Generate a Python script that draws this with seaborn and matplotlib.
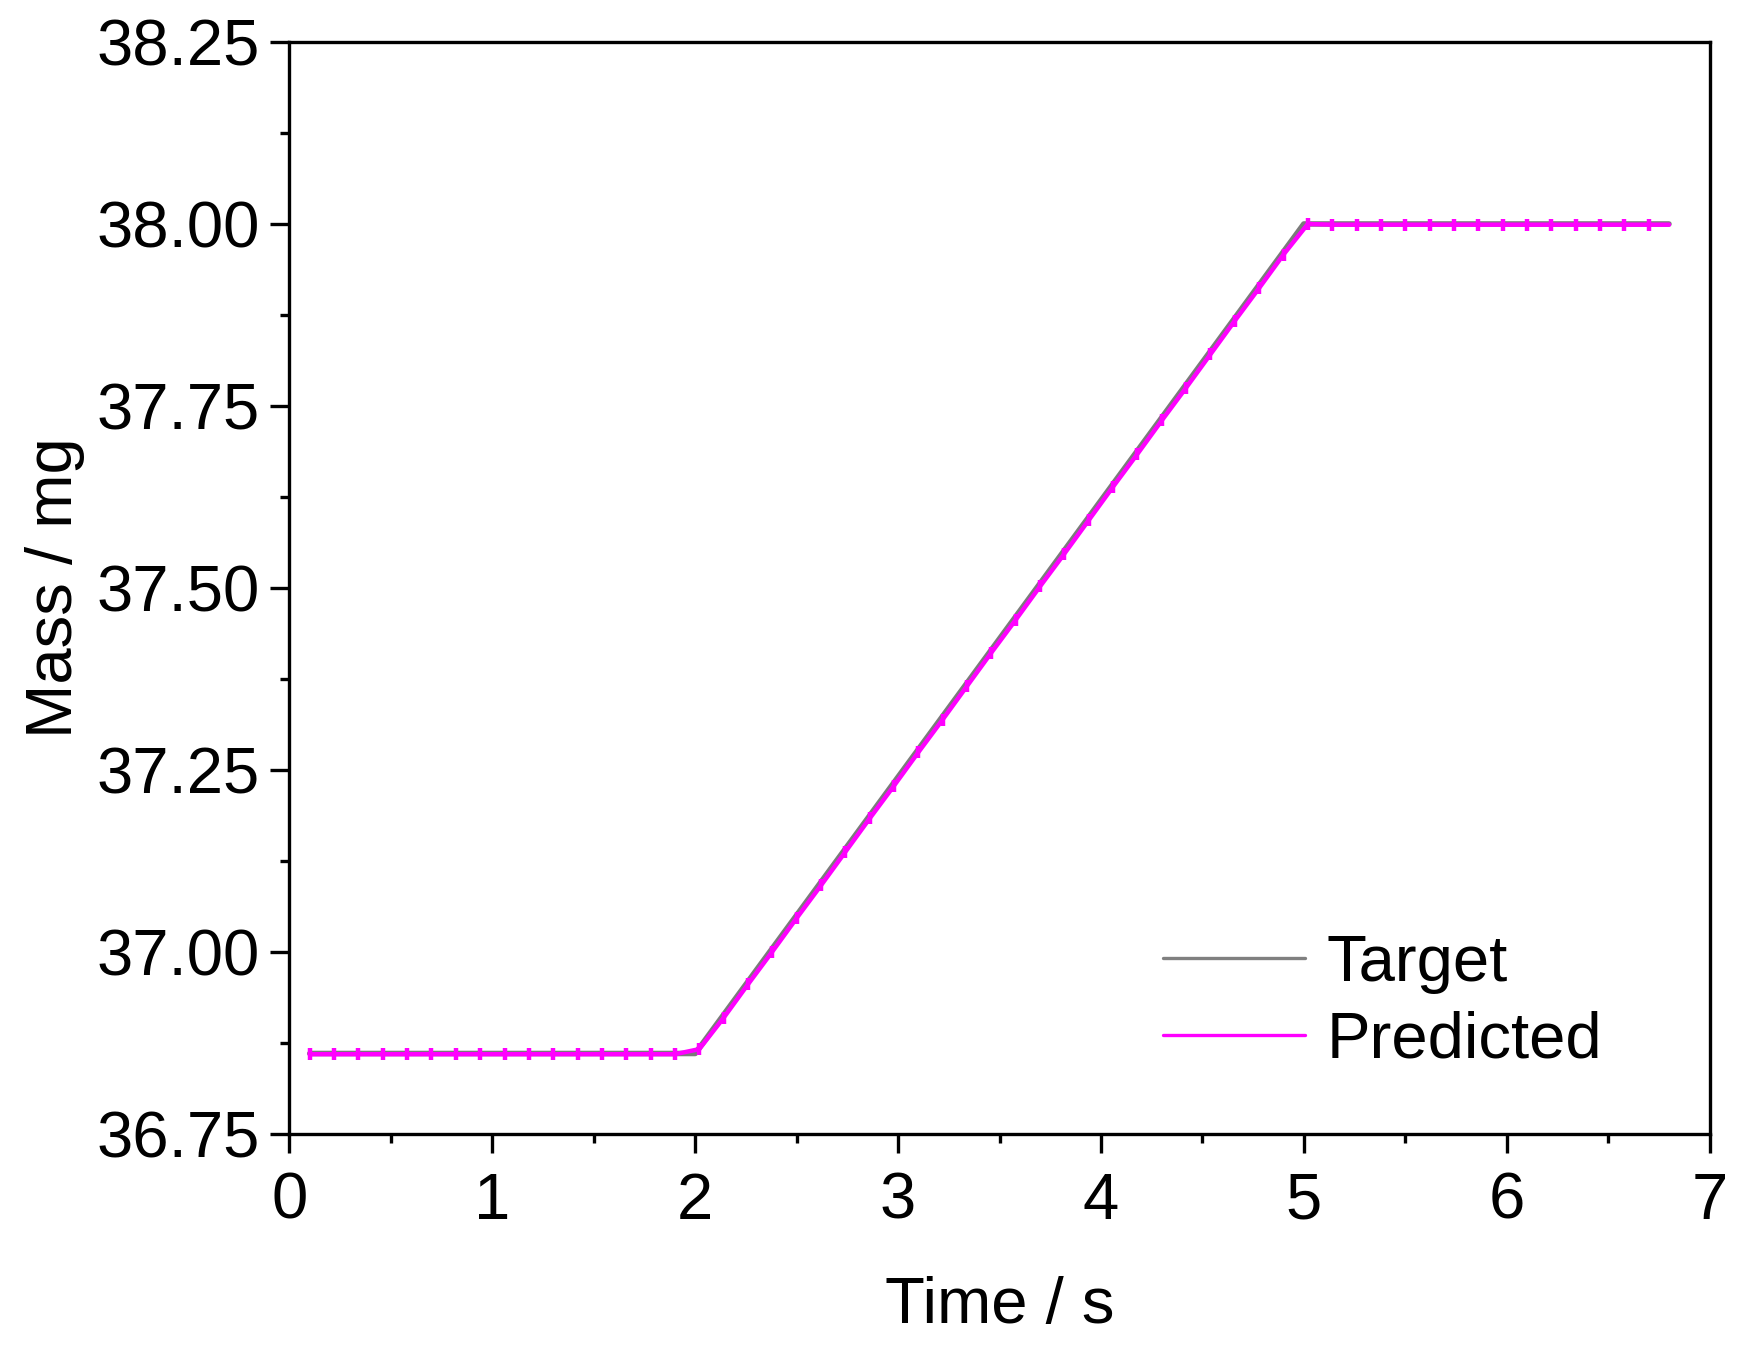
import numpy as np
import pandas as pd
import seaborn as sns
import matplotlib.pyplot as plt
from matplotlib.lines import Line2D
from matplotlib.ticker import MultipleLocator, FormatStrFormatter

# target mass profile (corner points)
target_time = [0.1, 2.0, 5.0, 6.8]
target_mass = [36.86, 36.86, 38.00, 38.00]

# predicted mass, sampled every 0.12 s
pred_time = [0.10, 0.22, 0.34, 0.46, 0.58, 0.70, 0.82, 0.94, 1.06, 1.18,
             1.30, 1.42, 1.54, 1.66, 1.78, 1.90, 2.02, 2.14, 2.26, 2.38,
             2.50, 2.62, 2.74, 2.86, 2.98, 3.10, 3.22, 3.34, 3.46, 3.58,
             3.70, 3.82, 3.94, 4.06, 4.18, 4.30, 4.42, 4.54, 4.66, 4.78,
             4.90, 5.02, 5.14, 5.26, 5.38, 5.50, 5.62, 5.74, 5.86, 5.98,
             6.10, 6.22, 6.34, 6.46, 6.58, 6.70, 6.80]
pred_mass = [36.859, 36.859, 36.859, 36.859, 36.859, 36.859, 36.859, 36.859,
             36.859, 36.859, 36.859, 36.859, 36.859, 36.859, 36.859, 36.859,
             36.866, 36.909, 36.955, 37.000, 37.046, 37.091, 37.137, 37.183,
             37.228, 37.274, 37.319, 37.365, 37.411, 37.456, 37.502, 37.547,
             37.593, 37.639, 37.684, 37.730, 37.775, 37.821, 37.867, 37.912,
             37.958, 38.000, 37.999, 37.999, 37.999, 37.999, 37.999, 37.999,
             37.999, 37.999, 37.999, 37.999, 37.999, 37.999, 37.999, 37.999,
             37.999]

df_target = pd.DataFrame({'Time': target_time, 'Mass': target_mass})
df_pred = pd.DataFrame({'Time': pred_time, 'Mass': pred_mass})

sns.set_theme(style="ticks", rc={'text.color': 'black', 'axes.labelcolor': 'black',
                                 'xtick.color': 'black', 'ytick.color': 'black',
                                 'axes.edgecolor': 'black'})
plt.rcParams['font.family'] = ['Liberation Sans', 'DejaVu Sans']
plt.rcParams['axes.linewidth'] = 1.2

fs = 23.5
fig = plt.figure(figsize=(8.74, 6.74), dpi=200)
ax = fig.add_axes([0.1656, 0.1591, 0.8124, 0.8097])

gray = '#7a7a7a'
magenta = '#ff00ff'

sns.lineplot(data=df_target, x='Time', y='Mass', ax=ax, color=gray, linewidth=2.0)
sns.lineplot(data=df_pred, x='Time', y='Mass', ax=ax, color=magenta, linewidth=1.6,
             marker='|', markersize=4.5, markeredgewidth=1.6, markeredgecolor=magenta,
             markevery=list(range(len(pred_time) - 1)))

ax.set_xlim(0, 7)
ax.set_ylim(36.75, 38.25)
ax.xaxis.set_major_locator(MultipleLocator(1))
ax.xaxis.set_minor_locator(MultipleLocator(0.5))
ax.yaxis.set_major_locator(MultipleLocator(0.25))
ax.yaxis.set_minor_locator(MultipleLocator(0.125))
ax.yaxis.set_major_formatter(FormatStrFormatter('%.2f'))

ax.tick_params(which='major', length=6.8, width=1.2, labelsize=fs, color='black',
               labelcolor='black', direction='out', pad=4)
ax.tick_params(which='minor', length=3.4, width=1.2, color='black', direction='out')
ax.tick_params(axis='x', which='major', pad=7)

ax.set_xlabel('Time / s', fontsize=fs, labelpad=16, color='black')
ax.set_ylabel('Mass / mg', fontsize=fs, labelpad=4, color='black')

handles = [Line2D([], [], color='#808080', linewidth=1.2),
           Line2D([], [], color=magenta, linewidth=1.2)]
ax.legend(handles, ['Target', 'Predicted'], loc='lower right', frameon=False,
          fontsize=fs, handlelength=2.18, handletextpad=0.33, labelspacing=0.25,
          bbox_to_anchor=(0.966, 0.004))

fig.savefig('out.png', dpi=200)
